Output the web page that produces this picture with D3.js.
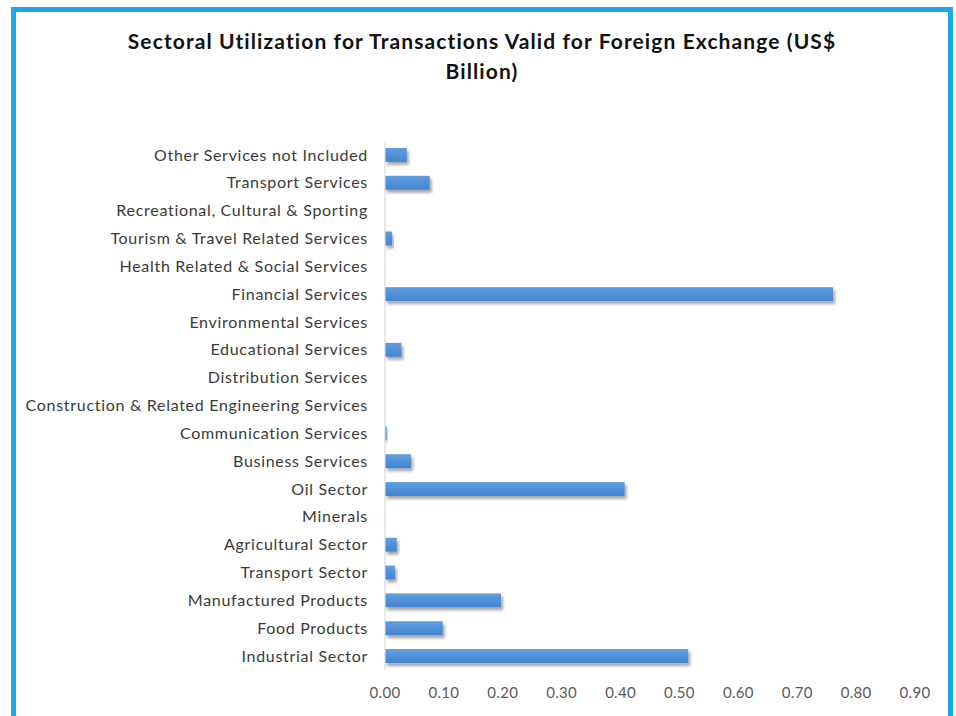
<!DOCTYPE html>
<html>
<head>
<meta charset="utf-8">
<script src="https://cdn.jsdelivr.net/npm/d3@7"></script>
<style>
  body { margin: 0; background: #fff; }
  text { font-family: Lato, "Open Sans", sans-serif; }
</style>
</head>
<body>
<div id="chart"></div>
<script>
const WIDTH = 956;
const HEIGHT = 716;

// categories from bottom to top as in the picture
const categories = [
  "Industrial Sector",
  "Food Products",
  "Manufactured Products",
  "Transport Sector",
  "Agricultural Sector",
  "Minerals",
  "Oil Sector",
  "Business Services",
  "Communication Services",
  "Construction & Related Engineering Services",
  "Distribution Services",
  "Educational Services",
  "Environmental Services",
  "Financial Services",
  "Health Related & Social Services",
  "Tourism & Travel Related Services",
  "Recreational, Cultural & Sporting",
  "Transport Services",
  "Other Services not Included"
];
const values = [0.515, 0.098, 0.197, 0.017, 0.020, 0.0, 0.407, 0.044, 0.003, 0.0, 0.0, 0.028, 0.0, 0.761, 0.0, 0.012, 0.0, 0.076, 0.037];
const ticks = [0, 0.1, 0.2, 0.3, 0.4, 0.5, 0.6, 0.7, 0.8, 0.9];
const titleLines = ["Sectoral Utilization for Transactions Valid for Foreign Exchange (US$", "Billion)"];

const data = categories.map((c, i) => ({ name: c, value: values[i] }));

var svg = d3.select("#chart").append("svg")
  .attr("width", WIDTH)
  .attr("height", HEIGHT);

// shadow + gradient for bars
var defs = svg.append("defs");
var grad = defs.append("linearGradient")
  .attr("id", "barGrad")
  .attr("x1", 0).attr("y1", 0).attr("x2", 0).attr("y2", 1);
grad.append("stop").attr("offset", "0%").attr("stop-color", "#5d9ee0");
grad.append("stop").attr("offset", "100%").attr("stop-color", "#4684cf");

var shadow = defs.append("filter")
  .attr("id", "shadow")
  .attr("x", "-10%").attr("y", "-40%")
  .attr("width", "130%").attr("height", "200%");
shadow.append("feDropShadow")
  .attr("dx", 2).attr("dy", 3)
  .attr("stdDeviation", 1.6)
  .attr("flood-color", "#000")
  .attr("flood-opacity", 0.35);

// outer blue frame
svg.append("rect")
  .attr("x", 13.5).attr("y", 9.5)
  .attr("width", 937).attr("height", 760)
  .attr("fill", "none")
  .attr("stroke", "#1aa8e8")
  .attr("stroke-width", 5);

// title
svg.append("g").selectAll("text")
  .data(titleLines)
  .join("text")
    .attr("x", 482)
    .attr("y", (d, i) => 49 + i * 30)
    .attr("text-anchor", "middle")
    .attr("font-size", 21)
    .attr("font-weight", "bold")
    .attr("letter-spacing", 1.1)
    .attr("fill", "#111")
    .text(d => d);

var x = d3.scaleLinear()
  .domain([0, 0.9])
  .range([385, 915]);

var y = d3.scaleBand()
  .domain(categories)
  .range([670, 141])
  .paddingInner(0.5)
  .paddingOuter(0.25);

// bars
svg.append("g")
  .selectAll("rect")
  .data(data)
  .join("rect")
    .attr("x", x(0))
    .attr("y", d => y(d.name))
    .attr("width", d => x(d.value) - x(0))
    .attr("height", y.bandwidth())
    .attr("fill", "url(#barGrad)")
    .attr("filter", "url(#shadow)");

// vertical axis line
svg.append("line")
  .attr("x1", x(0)).attr("x2", x(0))
  .attr("y1", 141).attr("y2", 670)
  .attr("stroke", "#d9d9d9")
  .attr("stroke-width", 1.2);

// category labels
svg.append("g")
  .selectAll("text")
  .data(categories)
  .join("text")
    .attr("x", 368)
    .attr("y", d => y(d) + y.bandwidth() / 2)
    .attr("dy", "0.35em")
    .attr("text-anchor", "end")
    .attr("font-size", 16)
    .attr("letter-spacing", 0.7)
    .attr("fill", "#3a3a3a")
    .text(d => d);

// x tick labels
svg.append("g")
  .selectAll("text")
  .data(ticks)
  .join("text")
    .attr("x", d => x(d))
    .attr("y", 698)
    .attr("text-anchor", "middle")
    .attr("font-size", 15)
    .attr("letter-spacing", 0.3)
    .attr("fill", "#595959")
    .text(d => d3.format(".2f")(d));
</script>
</body>
</html>
